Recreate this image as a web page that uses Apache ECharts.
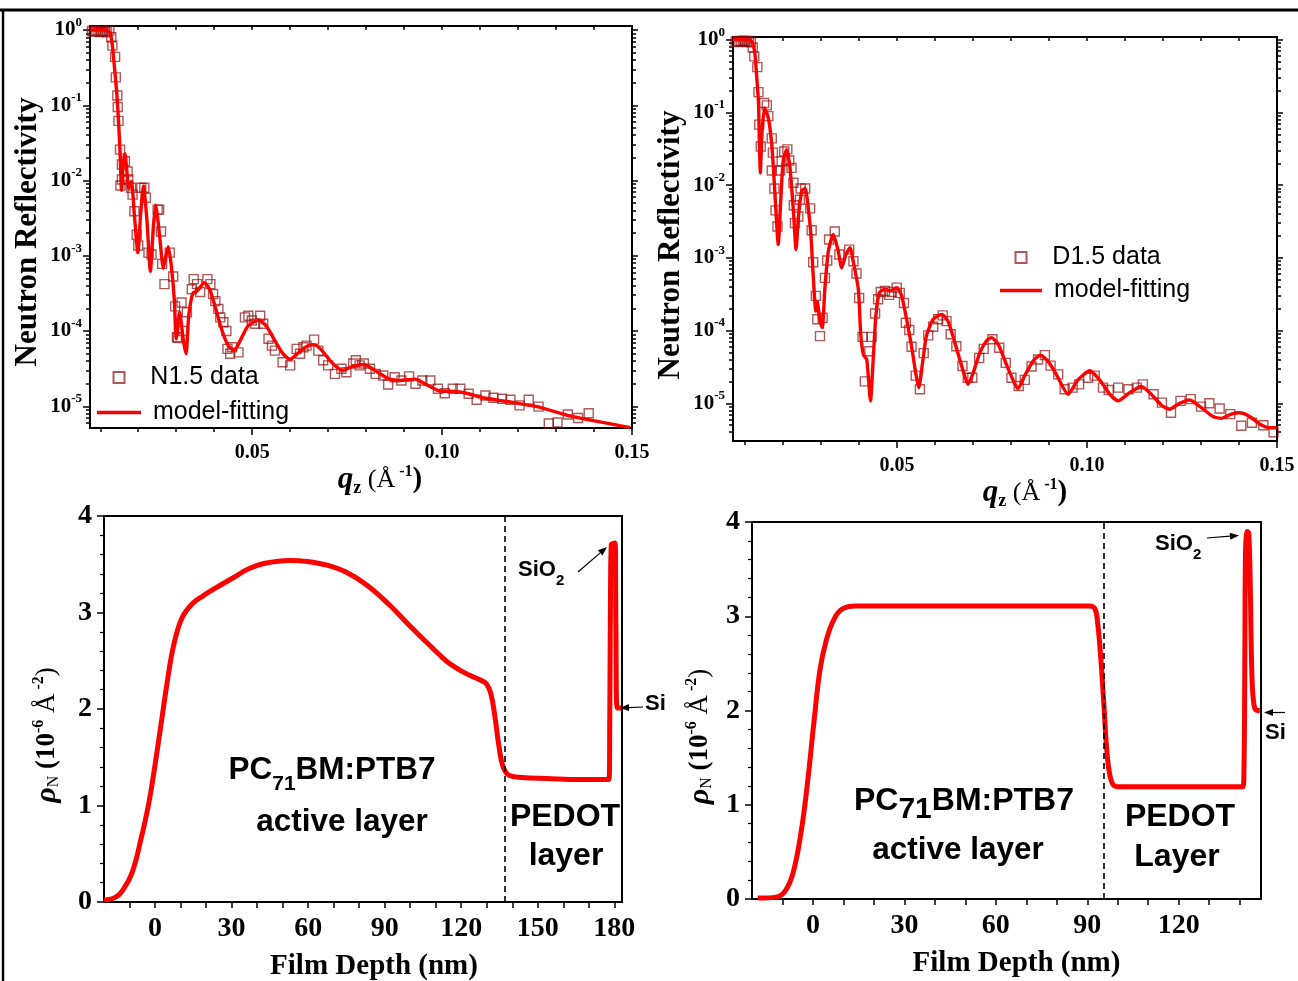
<!DOCTYPE html>
<html><head><meta charset="utf-8">
<script src="https://cdn.jsdelivr.net/npm/echarts@6/dist/echarts.min.js"></script>
<style>html,body{margin:0;padding:0;background:#fff}#c{width:1298px;height:981px}</style>
</head><body><div id="c"></div>
<script>
// ---------------- DATA ----------------
const n15Data = [[0.0078,0.97],[0.0083,0.95],[0.0088,0.98],[0.0093,0.96],[0.0098,0.94],[0.0103,0.97],[0.0108,0.95],[0.0113,0.96],[0.0118,0.93],
[0.0124,0.98],[0.0129,0.80],[0.0132,0.62],[0.0139,0.44],[0.0141,0.235],[0.0145,0.135],[0.0146,0.095],[0.0148,0.062],[0.0152,0.0257],[0.0153,0.0086],[0.0157,0.0163],[0.0157,0.0103],[0.0165,0.018],
[0.0172,0.0132],[0.0174,0.0103],[0.0181,0.0080],[0.0185,0.0065],[0.0190,0.0039],[0.0196,0.0019],[0.0200,0.00137],[0.0208,0.0080],[0.0216,0.0080],[0.0220,0.0059],[0.0227,0.0011],[0.0235,0.00104],
[0.0251,0.0041],[0.0255,0.0041],[0.0260,0.0021],[0.0263,0.00078],[0.0269,0.00042],[0.0283,0.0011],[0.0292,0.00053],[0.0297,0.000213],[0.0302,0.000083],[0.0304,0.000081],[0.0314,0.00024],[0.0318,0.0001],
[0.0328,0.000178],[0.0341,0.00036],[0.0346,0.00049],[0.0355,0.00042],[0.0363,0.00033],[0.0382,0.00049],[0.0390,0.00042],[0.0397,0.00031],[0.0403,0.00025],[0.0411,0.000197],[0.0416,0.000152],[0.0424,0.000131],
[0.0432,0.0001],[0.0435,0.000058],[0.0442,0.00005],[0.0447,0.000061],[0.0464,0.000052],[0.0481,0.000152],[0.0490,0.00016],[0.0499,0.000138],[0.0508,0.000125],[0.0521,0.00016],[0.0529,0.000125],
[0.0543,0.000079],[0.0552,0.000064],[0.0560,0.000055],[0.0580,0.0000385],[0.0600,0.000035],[0.0617,0.000058],[0.0626,0.00005],[0.0635,0.000061],[0.0643,0.000064],[0.0663,0.000077],[0.0674,0.000055],
[0.0687,0.000041],[0.0700,0.000035],[0.0718,0.000027],[0.0735,0.0000315],[0.0748,0.0000284],[0.0766,0.000037],[0.0773,0.000041],[0.0783,0.000035],[0.0794,0.000037],[0.0810,0.0000315],[0.0825,0.000027],
[0.0845,0.0000257],[0.0858,0.0000195],[0.0875,0.0000243],[0.0893,0.000022],[0.0913,0.000025],[0.0930,0.0000199],[0.0948,0.000022],[0.0969,0.000022],[0.0989,0.0000171],[0.1007,0.0000149],[0.1028,0.0000171],
[0.1048,0.0000171],[0.1070,0.0000147],[0.1091,0.0000122],[0.1114,0.0000139],[0.1135,0.000013],[0.1158,0.0000126],[0.1180,0.0000122],[0.1204,0.0000103],[0.1228,0.0000122],[0.1254,0.0000099],
[0.1281,0.0000059],[0.1304,0.0000061],[0.1331,0.0000078],[0.1358,0.000007],[0.1386,0.0000081]];

const n15Fit = [[0.0074,1.0],[0.0101,1.0],[0.0119,0.99],[0.0127,0.89],[0.0132,0.62],[0.0137,0.336],[0.0143,0.156],[0.0148,0.0624],[0.0152,0.025],[0.0156,0.0074],[0.0160,0.0158],[0.0165,0.0228],[0.0170,0.0136],
[0.0175,0.0078],[0.0182,0.0097],[0.0190,0.0034],[0.0199,0.0011],[0.0206,0.0034],[0.0214,0.0085],[0.0223,0.0029],[0.0232,0.00062],[0.0240,0.0025],[0.0246,0.0047],[0.0256,0.0019],[0.0266,0.00068],[0.0273,0.0010],
[0.0279,0.00132],[0.0287,0.00074],[0.0295,0.00026],[0.0300,0.000079],[0.0309,0.000178],[0.0319,0.000074],[0.0326,0.00005],[0.0333,0.00016],[0.0344,0.00032],[0.0355,0.00034],[0.0374,0.00044],[0.0389,0.00035],
[0.0405,0.00019],[0.0421,0.0001],[0.0437,0.000064],[0.0453,0.000055],[0.0468,0.000074],[0.0489,0.000117],[0.0516,0.00014],[0.0537,0.000117],[0.0560,0.000074],[0.0581,0.00005],[0.0600,0.000042],[0.0621,0.000051],
[0.0642,0.000062],[0.0663,0.000066],[0.0684,0.000055],[0.0710,0.000038],[0.0739,0.00003],[0.0765,0.000034],[0.0794,0.000036],[0.0823,0.00003],[0.0857,0.0000235],[0.0889,0.000022],[0.0928,0.000023],
[0.0962,0.000019],[0.0994,0.000016],[0.1036,0.0000158],[0.1067,0.0000148],[0.1101,0.0000132],[0.1151,0.000012],[0.1198,0.000011],[0.1253,0.0000098],[0.1330,0.0000076],[0.1416,0.0000062],[0.1495,0.0000052]];

const d15Data = [[0.0075,0.95],[0.0080,0.93],[0.0085,0.96],[0.0090,0.94],[0.0095,0.97],[0.0100,0.95],[0.0105,0.93],[0.0110,0.96],[0.0115,0.92],
[0.0120,0.78],[0.0124,0.59],[0.0132,0.42],[0.0135,0.19],[0.0137,0.068],[0.0141,0.034],[0.0150,0.135],[0.0157,0.125],[0.0161,0.089],[0.0170,0.044],[0.0173,0.028],[0.0170,0.0159],[0.0177,0.009],[0.0180,0.0045],
[0.0185,0.0027],[0.0192,0.0159],[0.0196,0.0213],[0.0203,0.029],[0.0211,0.031],[0.0216,0.0218],[0.0222,0.0173],[0.0227,0.0108],[0.0228,0.0053],[0.0231,0.0030],[0.0240,0.0037],[0.0244,0.0063],[0.0246,0.009],
[0.0258,0.009],[0.0271,0.0048],[0.0275,0.0024],[0.0279,0.00087],[0.0286,0.0003],[0.0290,0.000143],[0.0297,0.000084],[0.0304,0.00015],[0.0310,0.00053],[0.0316,0.00092],[0.0321,0.00179],[0.0336,0.0023],
[0.0348,0.00111],[0.0374,0.0013],[0.0385,0.0009],[0.0393,0.00061],[0.0400,0.00028],[0.0409,0.000082],[0.0415,0.00002],[0.0427,0.000052],[0.0433,0.000082],[0.0442,0.000172],[0.0450,0.00027],[0.0457,0.00034],
[0.0468,0.00035],[0.0479,0.00031],[0.0486,0.00034],[0.0499,0.00039],[0.0507,0.00033],[0.0518,0.00024],[0.0523,0.000128],[0.0532,0.000102],[0.0538,0.00006],[0.0549,0.000024],[0.0560,0.0000156],[0.0570,0.000049],
[0.0582,0.000086],[0.0595,0.000113],[0.0608,0.000143],[0.0620,0.000162],[0.0630,0.000135],[0.0641,0.000089],[0.0656,0.000061],[0.0672,0.0000325],[0.0686,0.0000225],[0.0698,0.0000225],[0.0716,0.000042],
[0.0728,0.000056],[0.0751,0.000076],[0.0769,0.000058],[0.0786,0.000036],[0.0801,0.0000225],[0.0820,0.0000173],[0.0836,0.000021],[0.0854,0.000032],[0.0871,0.00004],[0.0889,0.000046],[0.0904,0.000033],
[0.0924,0.000025],[0.0941,0.0000156],[0.0962,0.0000164],[0.0979,0.0000182],[0.1003,0.0000225],[0.1020,0.000024],[0.1042,0.0000164],[0.1057,0.0000152],[0.1082,0.0000164],[0.1109,0.0000156],[0.1131,0.0000164],
[0.1147,0.0000182],[0.1175,0.0000133],[0.1197,0.0000102],[0.1221,0.0000074],[0.1246,0.0000108],[0.1273,0.0000114],[0.1300,0.000009],[0.1322,0.00001],[0.1349,0.0000085],[0.1377,0.0000071],[0.1406,0.0000049],
[0.1434,0.0000054],[0.1464,0.000005],[0.1491,0.000004]];

const d15Fit = [[0.0068,1.0],[0.0100,1.0],[0.0115,0.97],[0.0121,0.85],[0.0126,0.62],[0.0130,0.33],[0.0135,0.142],[0.0137,0.050],[0.0140,0.0148],[0.0144,0.050],[0.0151,0.115],[0.0161,0.084],[0.0170,0.036],
[0.0177,0.0102],[0.0183,0.0029],[0.0187,0.00153],[0.0194,0.0067],[0.0200,0.0213],[0.0209,0.0308],[0.0218,0.0173],[0.0227,0.0044],[0.0234,0.0013],[0.0240,0.0036],[0.0249,0.0083],[0.0258,0.0090],[0.0266,0.0049],
[0.0273,0.0021],[0.0279,0.00059],[0.0286,0.000185],[0.0290,0.00025],[0.0297,0.000135],[0.0303,0.00011],[0.0310,0.00039],[0.0319,0.00124],[0.0332,0.0021],[0.0345,0.00124],[0.0354,0.00073],[0.0365,0.00111],
[0.0376,0.00138],[0.0386,0.00081],[0.0398,0.00037],[0.0404,0.000094],[0.0411,0.000047],[0.0420,0.00004],[0.0430,0.0000108],[0.0437,0.00004],[0.0444,0.000158],[0.0453,0.00033],[0.0468,0.00037],[0.0481,0.00035],
[0.0499,0.00039],[0.0512,0.0003],[0.0525,0.000143],[0.0538,0.000061],[0.0549,0.000026],[0.0557,0.0000164],[0.0567,0.000036],[0.0577,0.000084],[0.0595,0.000143],[0.0617,0.000167],[0.0634,0.000135],
[0.0652,0.000068],[0.0670,0.0000325],[0.0687,0.0000182],[0.0700,0.000026],[0.0718,0.00005],[0.0735,0.000072],[0.0748,0.00008],[0.0766,0.000065],[0.0788,0.000034],[0.0805,0.000021],[0.0818,0.0000159],
[0.0836,0.000024],[0.0858,0.000038],[0.0877,0.000046],[0.0897,0.000038],[0.0919,0.000025],[0.0950,0.0000133],[0.0976,0.000021],[0.1007,0.000028],[0.1033,0.000021],[0.1060,0.0000133],[0.1082,0.0000108],
[0.1112,0.000014],[0.1143,0.000017],[0.1169,0.0000133],[0.1196,0.0000094],[0.1217,0.0000083],[0.1244,0.00001],[0.1270,0.0000111],[0.1301,0.0000087],[0.1331,0.0000066],[0.1354,0.0000062],[0.1380,0.0000071],
[0.1402,0.0000074],[0.1428,0.0000066],[0.1454,0.0000052],[0.1481,0.0000046],[0.1499,0.0000046]];

const n15Sld = [[-20,0.02],[-15.4,0.05],[-12.2,0.14],[-8.9,0.31],[-5.7,0.63],[-2.4,1.03],[0,1.42],[2.4,1.85],[4.9,2.30],[7.3,2.66],[10.5,2.94],[14.6,3.09],[18.7,3.17],[23.5,3.25],[30,3.35],[36.5,3.45],
[43,3.51],[52.8,3.54],[59.3,3.53],[67.4,3.49],[75.5,3.41],[83.7,3.27],[91.8,3.08],[99.9,2.86],[108,2.65],[114.5,2.49],[121,2.38],[127.5,2.30],[129.9,2.26],[131.6,2.16],[133.2,1.92],[134.8,1.61],[136.4,1.40],
[138.9,1.31],[143.8,1.29],[153.5,1.28],[166.5,1.27],[177.9,1.27],[178.2,1.85],[178.5,3.23],[178.8,3.70],[180.3,3.72],[180.6,2.89],[181.1,2.01],[182.7,2.01]];

const d15Sld = [[-18.1,0.01],[-12,0.02],[-9.2,0.08],[-6.5,0.28],[-3.8,0.73],[-1.8,1.23],[0.3,1.87],[2.3,2.43],[4.4,2.75],[7.1,2.98],[9.8,3.08],[13.9,3.11],[27.5,3.11],[54.7,3.11],[81.9,3.11],[90.7,3.11],
[92.5,3.08],[93.4,2.93],[94.4,2.57],[95.5,2.04],[96.4,1.58],[97.5,1.30],[98.9,1.20],[100.9,1.19],[122.7,1.19],[141,1.19],[141.4,1.34],[141.7,2.57],[141.9,3.63],[142.5,3.90],[143,3.88],[143.5,3.28],[144,2.40],
[144.7,2.06],[145.8,2.0],[146.6,2.0]];

const qMajorTicks = [0.05, 0.10, 0.15];
const qMinorTicks = [0.01,0.02,0.03,0.04,0.06,0.07,0.08,0.09,0.11,0.12,0.13,0.14];
const logMajorTicks = [1e-5, 1e-4, 1e-3, 1e-2, 1e-1, 1];
const logMinorMantissas = [2,3,4,5,6,7,8,9];
const logDecades = [-6,-5,-4,-3,-2,-1,0];
const depthTicksN = [0,30,60,90,120,150,180];
const depthTicksD = [0,30,60,90,120];
const depthMinorN = [-10,10,20,40,50,70,80,100,110,130,140,160,170];
const depthMinorD = [-10,10,20,40,50,70,80,100,110,130,140];
const interfaceN = 137.1;
const interfaceD = 95.5;

// ---------------- STYLE ----------------
const SERIF = "'Liberation Serif', 'Times New Roman', serif";
const SANS = "'Liberation Sans', Arial, sans-serif";
const BLACK = '#000';
const RED = '#ff0000';
const SQ = 'rgba(140,10,10,0.85)';

const logMinorTicks = [];
logDecades.forEach(e => logMinorMantissas.forEach(m => logMinorTicks.push(m * Math.pow(10, e))));

function ax(gridIndex, type, min, max, position, showLine) {
  const a = {gridIndex, type, min, max, position,
    axisLine: {show: showLine, onZero: false, lineStyle: {color: BLACK, width: 2}},
    axisTick: {show: false}, axisLabel: {show: false},
    splitLine: {show: false}, minorTick: {show: false}, minorSplitLine: {show: false},
    axisPointer: {show: false}, silent: true};
  if (type === 'log') a.logBase = 10;
  return a;
}
function ticks(a, values, len, inside) {
  a.axisTick = {show: true, customValues: values, length: len, inside: !!inside, lineStyle: {color: BLACK, width: 1.5}};
  return a;
}
const qName = '{q|q}{z|z}{p| (Å}{s| -1}{c|)}';
const qRich = {
  q: {fontFamily: SERIF, fontWeight: 'bold', fontStyle: 'italic', fontSize: 31, color: BLACK},
  z: {fontFamily: SERIF, fontWeight: 'bold', fontSize: 18, color: BLACK, padding: [16, 0, 0, 0]},
  p: {fontFamily: SERIF, fontWeight: 'normal', fontSize: 26, color: BLACK},
  s: {fontFamily: SERIF, fontWeight: 'bold', fontSize: 16, color: BLACK, padding: [0, 0, 16, 0]},
  c: {fontFamily: SERIF, fontWeight: 'bold', fontSize: 29, color: BLACK}
};
const rhoName = '{r|ρ}{n|N}{t| (10}{s|-6}{a| Å}{s| -2}{a|)}';
const rhoRich = {
  r: {fontFamily: SERIF, fontStyle: 'italic', fontWeight: 'bold', fontSize: 30, color: BLACK},
  n: {fontFamily: SERIF, fontSize: 16, color: BLACK, padding: [14, 0, 0, 0]},
  t: {fontFamily: SERIF, fontWeight: 'bold', fontSize: 27, color: BLACK},
  a: {fontFamily: SERIF, fontWeight: 'normal', fontSize: 27, color: BLACK},
  s: {fontFamily: SERIF, fontWeight: 'bold', fontSize: 16, color: BLACK, padding: [0, 0, 16, 0]}
};

function qAxisMain(grid, min, padLeft) {
  const a = ticks(ax(grid, 'value', min, 0.15, 'bottom', true), qMajorTicks, 7);
  a.axisLabel = {show: true, customValues: qMajorTicks, formatter: v => Number(v).toFixed(2),
    fontFamily: SERIF, fontWeight: 'bold', fontSize: 20, color: BLACK, margin: 15};
  a.name = qName; a.nameLocation = 'middle'; a.nameGap = 35;
  a.nameTextStyle = {rich: qRich, padding: [0, 0, 0, padLeft]};
  return a;
}
function logAxisMain(grid, min, max, padRight) {
  const a = ticks(ax(grid, 'log', min, max, 'left', true), logMajorTicks, 7);
  a.axisLabel = {show: true, customValues: logMajorTicks, margin: 8,
    formatter: v => { const e = v > 0 ? Math.round(Math.log10(v)) : Math.round(v); return '{b|10}{s|' + e + '}'; },
    rich: {b: {fontFamily: SERIF, fontWeight: 'bold', fontSize: 21, color: BLACK},
           s: {fontFamily: SERIF, fontWeight: 'bold', fontSize: 13, color: BLACK, padding: [0, 0, 15, 0]}}};
  a.name = 'Neutron Reflectivity'; a.nameLocation = 'middle'; a.nameRotate = 90; a.nameGap = 47;
  a.nameTextStyle = {fontFamily: SERIF, fontWeight: 'bold', fontSize: 31, color: BLACK, padding: [0, padRight, 0, 0]};
  return a;
}
function depthAxisMain(grid, max, majors, minors, padLeft) {
  const a = ticks(ax(grid, 'value', -20, max, 'bottom', true), majors.concat(minors), 6);
  a.axisLabel = {show: true, customValues: majors, fontFamily: SERIF, fontWeight: 'bold', fontSize: 28, color: BLACK, margin: 13};
  a.name = 'Film Depth (nm)'; a.nameLocation = 'middle'; a.nameGap = 50;
  a.nameTextStyle = {fontFamily: SERIF, fontWeight: 'bold', fontSize: 29, color: BLACK, padding: [0, 0, 0, padLeft]};
  return a;
}
function rhoAxisMain(grid, gap) {
  const a = ax(grid, 'value', 0, 4, 'left', true);
  a.interval = 1;
  a.axisTick = {show: true, length: 7, lineStyle: {color: BLACK, width: 1.5}};
  a.minorTick = {show: true, splitNumber: 5, length: 4, lineStyle: {color: BLACK, width: 1.2}};
  a.axisLabel = {show: true, fontFamily: SERIF, fontWeight: 'bold', fontSize: 28, color: BLACK, margin: 12};
  a.name = rhoName; a.nameLocation = 'middle'; a.nameRotate = 90; a.nameGap = gap;
  a.nameTextStyle = {rich: rhoRich, padding: [0, 52, 0, 0]};
  return a;
}

const xAxis = [
  qAxisMain(0, 0.0073, 38),                                              // 0
  ticks(ax(0, 'value', 0.0073, 0.15, 'bottom', false), qMinorTicks, 4), // 1
  ticks(ax(0, 'value', 0.0073, 0.15, 'top', true), qMinorTicks.concat(qMajorTicks), 4, true), // 2
  qAxisMain(1, 0.0068, 40),                                              // 3
  ticks(ax(1, 'value', 0.0068, 0.15, 'bottom', false), qMinorTicks, 4), // 4
  ticks(ax(1, 'value', 0.0068, 0.15, 'top', true), qMinorTicks.concat(qMajorTicks), 4, true), // 5
  depthAxisMain(2, 183, depthTicksN, depthMinorN, 22),                   // 6
  ax(2, 'value', -20, 183, 'top', true),                                 // 7
  depthAxisMain(3, 147, depthTicksD, depthMinorD, 20),                   // 8
  ax(3, 'value', -20, 147, 'top', true)                                  // 9
];
const yAxis = [
  logAxisMain(0, 5.15e-6, 1.13, 10),                                          // 0
  ticks(ax(0, 'log', 5.15e-6, 1.13, 'left', false), logMinorTicks, 4),        // 1
  ticks(ax(0, 'log', 5.15e-6, 1.13, 'right', true), logMajorTicks, 6),        // 2
  ticks(ax(0, 'log', 5.15e-6, 1.13, 'right', false), logMinorTicks, 4),       // 3
  logAxisMain(1, 3.03e-6, 1.09, 12),                                          // 4
  ticks(ax(1, 'log', 3.03e-6, 1.09, 'left', false), logMinorTicks, 4),        // 5
  ticks(ax(1, 'log', 3.03e-6, 1.09, 'right', true), logMajorTicks, 6),        // 6
  ticks(ax(1, 'log', 3.03e-6, 1.09, 'right', false), logMinorTicks, 4),       // 7
  rhoAxisMain(2, 41),                                                         // 8
  ax(2, 'value', 0, 4, 'right', true),                                        // 9
  rhoAxisMain(3, 36),                                                         // 10
  ax(3, 'value', 0, 4, 'right', true)                                         // 11
];

const scatterStyle = {color: 'rgba(0,0,0,0)', borderColor: SQ, borderWidth: 1.4};
const dashed = v => ({silent: true, symbol: 'none', label: {show: false},
  lineStyle: {type: [6, 4], color: BLACK, width: 1.6}, data: [{xAxis: v}]});

const series = [
  {name: 'N1.5 data', type: 'scatter', xAxisIndex: 0, yAxisIndex: 0, data: n15Data, symbol: 'rect', symbolSize: 9, itemStyle: scatterStyle, z: 2},
  {name: 'model-fitting', type: 'line', xAxisIndex: 0, yAxisIndex: 0, data: n15Fit, symbol: 'none', smooth: 0.2, lineStyle: {color: RED, width: 3.4}, itemStyle: {color: RED}, z: 3},
  {name: 'D1.5 data', type: 'scatter', xAxisIndex: 3, yAxisIndex: 4, data: d15Data, symbol: 'rect', symbolSize: 9, itemStyle: scatterStyle, z: 2},
  {name: 'model-fitting ', type: 'line', xAxisIndex: 3, yAxisIndex: 4, data: d15Fit, symbol: 'none', smooth: 0.2, lineStyle: {color: RED, width: 3.4}, itemStyle: {color: RED}, z: 3},
  {name: 'N1.5 SLD', type: 'line', xAxisIndex: 6, yAxisIndex: 8, data: n15Sld, symbol: 'none', smooth: 0.4, lineStyle: {color: RED, width: 5}, markLine: dashed(interfaceN)},
  {name: 'D1.5 SLD', type: 'line', xAxisIndex: 8, yAxisIndex: 10, data: d15Sld, symbol: 'none', smooth: 0.4, lineStyle: {color: RED, width: 5}, markLine: dashed(interfaceD)}
];

const legTxt = {fontFamily: SANS, fontSize: 25, color: BLACK};
const legend = [
  {data: [{name: 'N1.5 data', icon: 'rect'}], left: 112.5, top: 365, padding: 0, itemWidth: 11, itemHeight: 11, selectedMode: false, textStyle: legTxt, formatter: n => '   ' + n},
  {data: [{name: 'model-fitting', icon: 'rect'}], left: 97, top: 400, padding: 0, itemWidth: 44, itemHeight: 3.5, selectedMode: false, textStyle: legTxt, formatter: n => ' ' + n},
  {data: [{name: 'D1.5 data', icon: 'rect'}], left: 1014.5, top: 245, padding: 0, itemWidth: 11, itemHeight: 11, selectedMode: false, textStyle: legTxt, formatter: n => '   ' + n},
  {data: [{name: 'model-fitting ', icon: 'rect'}], left: 1000, top: 278, padding: 0, itemWidth: 42, itemHeight: 3.5, selectedMode: false, textStyle: legTxt, formatter: n => ' ' + n.trim()}
];

// ---------------- ANNOTATIONS ----------------
function arrow(x1, y1, x2, y2) {
  const ang = Math.atan2(y2 - y1, x2 - x1), L = 9, W = 3.5;
  const bx = x2 - L * Math.cos(ang), by = y2 - L * Math.sin(ang);
  const px = -Math.sin(ang) * W, py = Math.cos(ang) * W;
  return [
    {type: 'line', silent: true, shape: {x1, y1, x2: bx, y2: by}, style: {stroke: BLACK, lineWidth: 1.2}},
    {type: 'polygon', silent: true, shape: {points: [[x2, y2], [bx + px, by + py], [bx - px, by - py]]}, style: {fill: BLACK}}
  ];
}
function txt(x, y, text, align, size, rich) {
  return {type: 'text', silent: true, x, y, style: {text, align, verticalAlign: 'middle', fontFamily: SANS, fontWeight: 'bold', fontSize: size, fill: BLACK, rich}};
}
const bR = (main, sub, pad) => ({a: {fontFamily: SANS, fontWeight: 'bold', fontSize: main, fill: BLACK},
  s: {fontFamily: SANS, fontWeight: 'bold', fontSize: sub, fill: BLACK, padding: [pad, 0, 0, 0]}});

const graphic = [
  {type: 'line', silent: true, shape: {x1: 0, y1: 10, x2: 1298, y2: 10}, style: {stroke: BLACK, lineWidth: 3}},
  {type: 'line', silent: true, shape: {x1: 3, y1: 10, x2: 3, y2: 981}, style: {stroke: BLACK, lineWidth: 2.5}},
  // bottom-left annotations
  txt(332, 770, '{a|PC}{s|71}{a|BM:PTB7}', 'center', 31.5, bR(31.5, 21, 29)),
  txt(342, 822, 'active layer', 'center', 31.5),
  txt(565, 817, 'PEDOT', 'center', 32),
  txt(566, 856, 'layer', 'center', 32),
  txt(518, 570, '{a|SiO}{s|2}', 'left', 22, bR(22, 15, 22)),
  txt(645, 704, 'Si', 'left', 22),
  ...arrow(578, 572, 607, 547),
  ...arrow(643, 707, 620, 708),
  // bottom-right annotations
  txt(964, 801, '{a|PC}{s|71}{a|BM:PTB7}', 'center', 32, bR(32, 30, 17)),
  txt(958, 850, 'active layer', 'center', 31.5),
  txt(1180, 817, 'PEDOT', 'center', 32),
  txt(1177, 857, 'Layer', 'center', 32),
  txt(1155, 544, '{a|SiO}{s|2}', 'left', 22, bR(22, 15, 22)),
  txt(1265, 733, 'Si', 'left', 22),
  ...arrow(1207, 538, 1239, 535.5),
  ...arrow(1285, 712.5, 1264, 712.5)
];

const chart = echarts.init(document.getElementById('c'), null, {renderer: 'canvas'});
chart.setOption({
  animation: false,
  backgroundColor: '#fff',
  grid: [
    {left: 90, top: 26, width: 542, height: 402, outerBoundsMode: 'none', containLabel: false},
    {left: 733, top: 37, width: 544, height: 404, outerBoundsMode: 'none', containLabel: false},
    {left: 104, top: 516, width: 518, height: 386, outerBoundsMode: 'none', containLabel: false},
    {left: 752, top: 522, width: 509, height: 377, outerBoundsMode: 'none', containLabel: false}
  ],
  xAxis, yAxis, series, legend, graphic
});
</script></body></html>
